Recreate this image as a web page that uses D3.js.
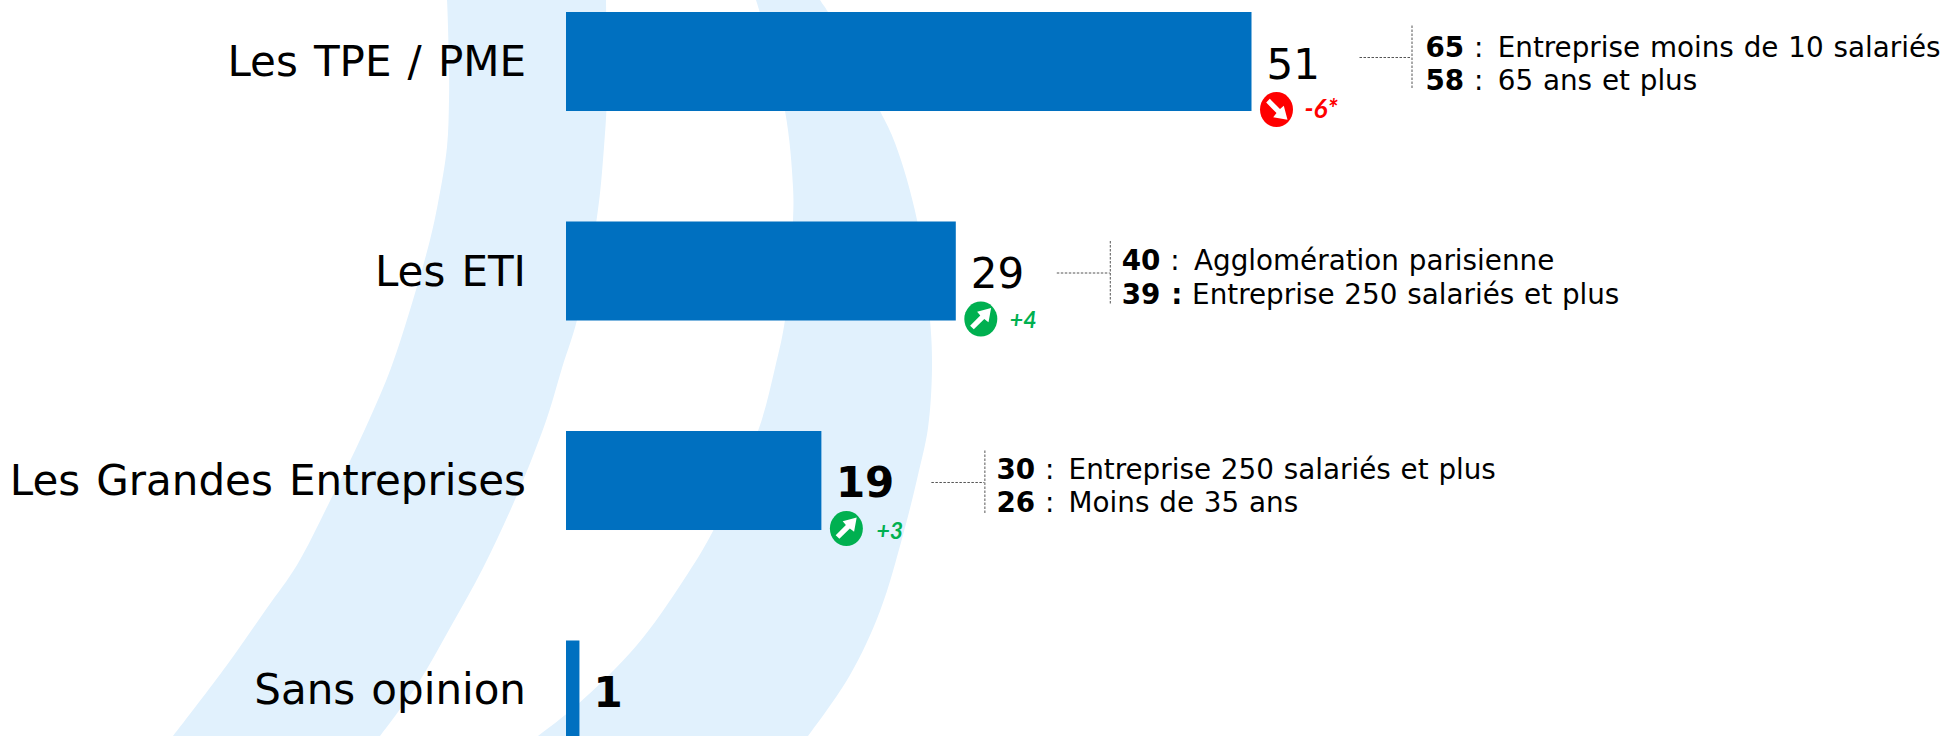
<!DOCTYPE html>
<html><head><meta charset="utf-8">
<script src="https://cdn.jsdelivr.net/npm/d3@7"></script>
<style>html,body{margin:0;padding:0;background:#fff;overflow:hidden}svg{display:block}</style>
</head><body><div id="c"></div>
<script>
const categories = ["Les TPE / PME","Les ETI","Les Grandes Entreprises","Sans opinion"];
const values = [51,29,19,1];
const boldValue = [false,false,true,true];
const deltas = ["-6*","+4","+3",null];
const details = [
  [["65"," : Entreprise moins de 10 salariés"],["58"," : 65 ans et plus"]],
  [["40"," : Agglomération parisienne"],["39 :"," Entreprise 250 salariés et plus"]],
  [["30"," : Entreprise 250 salariés et plus"],["26"," : Moins de 35 ans"]],
  null
];
// decorative background ribbons: traced left and right outlines
const ribbonAOuter = [[446,-10],[447,0],[449,67],[449,100],[447,147],[438,203],[430,240],[413,300],[391,368],[370,418],[350,461],[330,501],[297,565],[267,608],[227,665],[173,736],[165,746]];
const ribbonAInner = [[606,-10],[606,0],[607,93],[604,147],[597,217],[577,320],[562,368],[547,418],[517,495],[483,568],[450,628],[417,685],[380,736],[372,746]];
const ribbonBOuter = [[752,-10],[756,0],[785,111],[793,187],[793,220],[785,320],[775,368],[758,431],[713,531],[683,581],[637,645],[577,705],[538,736],[525,746]];
const ribbonBInner = [[814,-10],[820,0],[828,12],[880,111],[895,143],[917,220],[930,320],[932,368],[928,428],[918,475],[903,535],[880,611],[850,675],[808,736],[800,746]];

const W=1948,H=736, font='"DejaVu Sans",Verdana,sans-serif', deltaFont='Lato,"Open Sans",sans-serif';
const svg=d3.select("#c").append("svg").attr("width",W).attr("height",H);
const edge=d3.line().curve(d3.curveCatmullRom.alpha(0.5));
svg.append("g").selectAll("path").data([[ribbonAOuter,ribbonAInner],[ribbonBOuter,ribbonBInner]]).join("path")
  .attr("d",([a,b])=>edge(a)+"L"+edge(b.slice().reverse()).slice(1)+"Z").attr("fill","#e1f1fd");

const x=d3.scaleLinear().domain([0,51]).range([566,1251.5]);
const y=d3.scaleBand().domain(categories).range([12,739.5]).paddingInner(0.5274).paddingOuter(0);

svg.append("g").selectAll("rect").data(categories).join("rect")
  .attr("x",x(0)).attr("y",d=>y(d)).attr("height",y.bandwidth())
  .attr("width",(d,i)=>x(values[i])-x(0)).attr("fill","#0070c0");

const ax=svg.append("g").attr("transform","translate(526,0)")
  .call(d3.axisLeft(y).tickSize(0).tickPadding(0));
ax.select(".domain").remove();
ax.selectAll("text").attr("font-family",font).attr("font-size",42).attr("word-spacing","2.8px").attr("fill","#000").attr("dy","14.5px");

const valOff=[15,15,14.5,14];
svg.append("g").selectAll("text").data(categories).join("text")
  .attr("x",(d,i)=>x(values[i])+valOff[i]).attr("y",d=>y(d)+y.bandwidth()/2+17)
  .attr("font-family",font).attr("font-size",42)
  .attr("font-weight",(d,i)=>boldValue[i]?700:400).attr("fill","#000")
  .text((d,i)=>values[i]);

// trend badges
const arrow="M-10.7,6.7 L-0.5,-3.5 L-3.7,-7.3 L10.3,-11 L7.7,3.3 L3.5,0 L-7,10.3 Z";
const deltaOff=[[28,8,26],[29,8.5,23],[30,10,23]];
categories.forEach((c,i)=>{
  if(!deltas[i])return;
  const up=deltas[i][0]==="+";
  const col=up?"#00b050":"#ff0000";
  const g=svg.append("g").attr("transform",`translate(${x(values[i])+25},${y(c)+y.bandwidth()-1.5})`);
  g.append("ellipse").attr("rx",16.5).attr("ry",17.5).attr("fill",col);
  g.append("path").attr("d",arrow).attr("fill","#fff").attr("transform",up?null:"rotate(90)");
  g.append("text").attr("x",deltaOff[i][0]).attr("y",deltaOff[i][1]).attr("font-family",deltaFont)
    .attr("font-size",deltaOff[i][2]).attr("font-weight",700).attr("font-style","italic").attr("fill",col).text(deltas[i]);
});

// detail call-outs
const leadStart=[108,101,110], leadV=[160,154,163], textOff=[174,166,175];
const leadShift=[0,6,6], firstBase=[-5,-1,-1.5];
categories.forEach((c,i)=>{
  if(!details[i])return;
  const e=x(values[i]), mid=y(c)+y.bandwidth()/2;
  const g=svg.append("g");
  const hy=mid-4+(i?6:0);
  g.append("line").attr("x1",e+leadStart[i]).attr("x2",e+leadV[i]).attr("y1",hy).attr("y2",hy)
    .attr("stroke","#555").attr("stroke-width",1).attr("stroke-dasharray","2.5 1.5");
  g.append("line").attr("x1",e+leadV[i]+.5).attr("x2",e+leadV[i]+.5).attr("y1",mid-36+leadShift[i]).attr("y2",mid+27+leadShift[i])
    .attr("stroke","#555").attr("stroke-width",1).attr("stroke-dasharray","2.5 1.5");
  details[i].forEach((row,j)=>{
    const t=g.append("text").attr("x",e+textOff[i]).attr("y",mid+firstBase[i]+j*33.5)
      .attr("font-family",font).attr("font-size",27.8).attr("word-spacing","1px").attr("fill","#000").attr("xml:space","preserve");
    t.append("tspan").attr("font-weight",700).text(row[0]);
    if(row[1].startsWith(" : ")){
      t.append("tspan").text(" :");
      t.append("tspan").attr("dx",4.5).text(row[1].slice(2));
    } else t.append("tspan").text(row[1]);
  });
});
</script></body></html>
